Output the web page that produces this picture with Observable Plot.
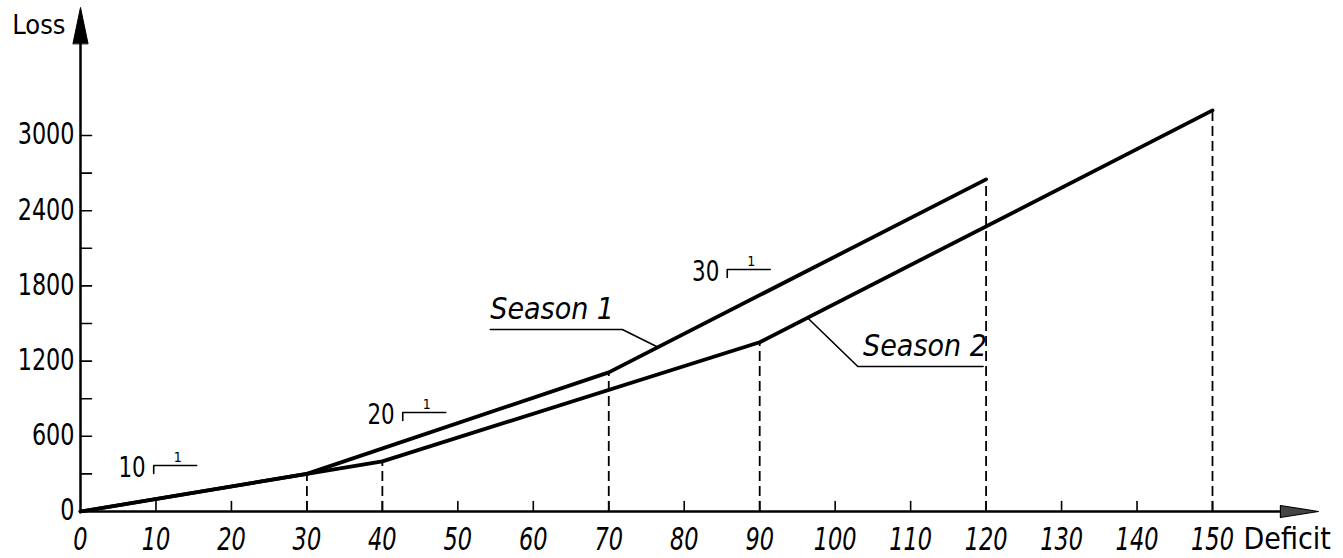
<!DOCTYPE html>
<html>
<head>
<meta charset="utf-8">
<script src="https://cdn.jsdelivr.net/npm/d3@7"></script>
<script src="https://cdn.jsdelivr.net/npm/@observablehq/plot@0.6"></script>
<style>
  html, body { margin: 0; padding: 0; background: #fff; }
  svg { display: block; }
</style>
</head>
<body>
<div id="chart"></div>
<script>
// ---- data ----
const deficitSeason1 = [0, 30, 70, 120];
const lossSeason1    = [0, 300, 1110, 2650];
const deficitSeason2 = [0, 30, 40, 90, 150];
const lossSeason2    = [0, 300, 400, 1350, 3200];

// breakpoints marked by dashed verticals
const breakDeficit = [30, 40, 70, 90, 120, 150];
const breakLoss    = [300, 400, 1110, 1350, 2650, 3200];

// axis ticks
const xTicks      = [0, 10, 20, 30, 40, 50, 60, 70, 80, 90, 100, 110, 120, 130, 140, 150];
const yMinorTicks = [300, 600, 900, 1200, 1500, 1800, 2100, 2400, 2700, 3000];
const yLabels     = [0, 600, 1200, 1800, 2400, 3000];

// slope markers (anchored in data units)
const slopeText    = ["10", "20", "30"];
const slopeDeficit = [9.7, 42.7, 85.7];
const slopeLoss    = [367, 790, 1931];

// series labels + leader lines (data units)
const seriesLabel   = ["Season 1", "Season 2"];
const labelDeficit  = [54.3, 103.7];
const labelLoss     = [1612, 1317];
const leader1Deficit = [54.3, 71.8, 76.6];
const leader1Loss    = [1452, 1452, 1309];
const leader2Deficit = [96.3, 103.0, 119.6];
const leader2Loss    = [1548, 1157, 1157];

// ---- build tables ----
const s1 = deficitSeason1.map((d, i) => ({x: d, y: lossSeason1[i]}));
const s2 = deficitSeason2.map((d, i) => ({x: d, y: lossSeason2[i]}));
const breaks = breakDeficit.map((d, i) => ({x: d, y: breakLoss[i]}));
const slopes = slopeText.map((t, i) => ({t, x: slopeDeficit[i], y: slopeLoss[i]}));
const labels = seriesLabel.map((t, i) => ({t, x: labelDeficit[i], y: labelLoss[i]}));
const lead1 = leader1Deficit.map((d, i) => ({x: d, y: leader1Loss[i]}));
const lead2 = leader2Deficit.map((d, i) => ({x: d, y: leader2Loss[i]}));

const FONT = "'DejaVu Sans Condensed', 'DejaVu Sans', 'Liberation Sans', sans-serif";

const tickShape = {draw(ctx, l) { ctx.moveTo(0, 0); ctx.lineTo(0, -l); }};
const triShape = (h) => ({draw(ctx, l) { ctx.moveTo(-h, 0); ctx.lineTo(0, -l); ctx.lineTo(h, 0); ctx.closePath(); }});
const bracketShape = {draw(ctx, l) { ctx.moveTo(8, 0); ctx.lineTo(0, 0); ctx.lineTo(0, -l); }};

const chart = Plot.plot({
  width: 1343,
  height: 558,
  marginLeft: 80,
  marginRight: 131,
  marginTop: 135,
  marginBottom: 47,
  x: {domain: [0, 150], axis: null},
  y: {domain: [0, 3000], axis: null},
  style: {fontFamily: FONT, background: "#fff", color: "#000"},
  marks: [
    // dashed verticals
    Plot.ruleX(breaks, {x: "x", y1: 0, y2: "y", stroke: "#000", strokeWidth: 1.8, strokeDasharray: "10,5"}),
    // axes lines
    Plot.ruleY([0], {x1: 0, x2: 159, y: 0, stroke: "#000", strokeWidth: 2.5}),
    Plot.ruleX([0], {x: 0, y1: 0, y2: 3734, stroke: "#000", strokeWidth: 2.5}),
    // arrowheads
    Plot.vector([0], {x: 0, y: 3734, length: 36, anchor: "start", shape: triShape(7.5), fill: "#000", stroke: "#000", strokeWidth: 1}),
    Plot.vector([0], {x: 159, y: 0, length: 38, rotate: 90, anchor: "start", shape: triShape(6), fill: "#444", stroke: "#000", strokeWidth: 1.2}),
    // ticks
    Plot.vector(xTicks.slice(1), {x: d => d, y: 0, length: 10, anchor: "start", shape: tickShape, stroke: "#000", strokeWidth: 1.6}),
    Plot.vector(yMinorTicks, {x: 0, y: d => d, length: 11, rotate: 90, anchor: "start", shape: tickShape, stroke: "#000", strokeWidth: 1.6}),
    // tick labels
    Plot.text(xTicks, {x: d => d, y: 0, dy: 28, text: d => String(d), fontSize: 32, fontStyle: "italic", fill: "#000"}),
    Plot.text(yLabels, {x: 0, y: d => d, dx: -6, dy: -1, text: d => String(d), textAnchor: "end", fontSize: 31, fill: "#000"}),
    // axis titles
    Plot.text(["Loss"], {x: 0, y: 3878, dx: -15, text: d => d, textAnchor: "end", fontSize: 27, fill: "#000"}),
    Plot.text(["Deficit"], {x: 150, y: 0, dx: 31, dy: 28, text: d => d, textAnchor: "start", fontSize: 30, fill: "#000"}),
    // series lines
    Plot.line(s1, {x: "x", y: "y", stroke: "#000", strokeWidth: 3.8, strokeLinejoin: "round"}),
    Plot.line(s2, {x: "x", y: "y", stroke: "#000", strokeWidth: 3.8, strokeLinejoin: "round"}),
    // leader lines
    Plot.line(lead1, {x: "x", y: "y", stroke: "#000", strokeWidth: 1.6}),
    Plot.line(lead2, {x: "x", y: "y", stroke: "#000", strokeWidth: 1.6}),
    Plot.text(labels, {x: "x", y: "y", text: "t", textAnchor: "start", fontSize: 30, fontStyle: "italic", fill: "#000"}),
    // slope markers
    Plot.text(slopes, {x: "x", y: "y", dx: -8, dy: 3, text: "t", textAnchor: "end", fontSize: 28, fill: "#000"}),
    Plot.vector(slopes, {x: "x", y: "y", length: 43, rotate: 90, anchor: "start", shape: bracketShape, stroke: "#000", strokeWidth: 1.6}),
    Plot.text(slopes, {x: "x", y: "y", dx: 24, dy: -8, text: () => "1", fontSize: 14, fill: "#000"})
  ]
});

// narrow the lettering to match the condensed drafting font of the reference
function narrow(selector, sx) {
  chart.querySelectorAll(selector).forEach((t) => {
    const tr = t.getAttribute("transform");
    if (tr) t.setAttribute("transform", tr + ` scale(${sx},1)`);
  });
}
narrow('g[font-size="32"] text', 0.78);
narrow('g[font-size="31"] text', 0.8);
narrow('g[font-size="28"] text', 0.85);

document.getElementById("chart").appendChild(chart);
</script>
</body>
</html>
